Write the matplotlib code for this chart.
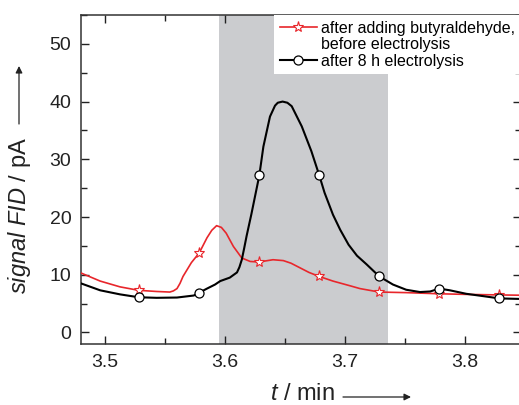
import matplotlib
matplotlib.use("Agg")
import matplotlib.pyplot as plt
from matplotlib.ticker import MultipleLocator

plt.rcParams['font.family'] = ['Liberation Sans', 'DejaVu Sans']
plt.rcParams['mathtext.fontset'] = 'custom'
plt.rcParams['mathtext.rm'] = 'Liberation Sans'
plt.rcParams['mathtext.it'] = 'Liberation Sans:italic'

# retention time (min) and FID signal (pA)
red_t = [3.48, 3.496, 3.5125, 3.528, 3.543, 3.554, 3.557, 3.560, 3.5625, 3.565, 3.572,
         3.5786, 3.585, 3.589, 3.593, 3.597, 3.601, 3.607, 3.614, 3.621, 3.6286, 3.634,
         3.640, 3.6486, 3.655, 3.6625, 3.670, 3.6786, 3.690, 3.704, 3.7125, 3.7286,
         3.751, 3.7786, 3.80, 3.8286, 3.847]
red_y = [10.3, 8.9, 7.9, 7.3, 7.1, 7.0, 7.2, 7.6, 8.5, 9.7, 12.1,
         13.8, 16.4, 17.7, 18.5, 18.2, 17.2, 14.9, 12.9, 12.3, 12.2, 12.4,
         12.6, 12.45, 12.0, 11.2, 10.4, 9.7, 8.9, 8.1, 7.6, 7.0,
         6.9, 6.7, 6.6, 6.5, 6.45]

blk_t = [3.48, 3.496, 3.5125, 3.528, 3.543, 3.56, 3.574, 3.5786, 3.585, 3.5917, 3.596,
         3.604, 3.61, 3.612, 3.614, 3.616, 3.618, 3.620, 3.622, 3.6286, 3.632, 3.6375,
         3.6417, 3.644, 3.648, 3.652, 3.6556, 3.664, 3.672, 3.6786, 3.683, 3.690,
         3.696, 3.703, 3.710, 3.718, 3.7286, 3.740, 3.751, 3.7625, 3.771, 3.7786,
         3.7875, 3.801, 3.815, 3.8286, 3.847]
blk_y = [8.5, 7.3, 6.6, 6.1, 6.0, 6.05, 6.4, 6.9, 7.6, 8.3, 8.9,
         9.5, 10.4, 11.3, 12.6, 14.6, 16.7, 18.6, 20.5, 27.2, 32.2, 37.4,
         39.3, 39.8, 40.0, 39.8, 39.2, 35.7, 31.4, 27.2, 24.2, 20.4,
         17.8, 15.2, 13.3, 11.8, 9.7, 8.3, 7.4, 7.0, 7.1, 7.6,
         7.3, 6.7, 6.3, 5.9, 5.8]

marker_t = [3.528, 3.5786, 3.6286, 3.6786, 3.7286, 3.7786, 3.8286]
window = (3.595, 3.736)

red_marks = [i for i, t in enumerate(red_t) if t in marker_t]
blk_marks = [i for i, t in enumerate(blk_t) if t in marker_t]

fig = plt.figure(figsize=(5.19, 4.05), dpi=100)
ax = fig.add_axes([81 / 519, 61 / 405, 440 / 519, 329 / 405])

ax.axvspan(window[0], window[1], color='#cbcccf', lw=0, zorder=0)

ax.plot(red_t, red_y, color='#e8262b', lw=1.2, marker='*', ms=8, mfc='white',
        mec='#e8262b', mew=0.8, markevery=red_marks, zorder=3,
        label='after adding butyraldehyde,')
ax.plot([], [], color='none', label='before electrolysis')
ax.plot(blk_t, blk_y, color='black', lw=1.5, marker='o', ms=6.5, mfc='white',
        mec='black', mew=0.9, markevery=blk_marks, zorder=4,
        label='after 8 h electrolysis')

ax.set_xlim(3.48, 3.8467)
ax.set_ylim(-2, 55)
ax.xaxis.set_major_locator(MultipleLocator(0.1))
ax.xaxis.set_minor_locator(MultipleLocator(0.05))
ax.yaxis.set_major_locator(MultipleLocator(10))
ax.yaxis.set_minor_locator(MultipleLocator(5))
ax.tick_params(which='both', direction='in', top=True, right=True, width=1,
               labelsize=14, colors='#222222')
ax.tick_params(which='major', length=6, pad=7)
ax.tick_params(which='minor', length=4)
for s in ax.spines.values():
    s.set_linewidth(1.1)
    s.set_color('#333333')

leg = ax.legend(loc='upper right', fontsize=11.5, frameon=True, fancybox=False,
                borderaxespad=0, borderpad=0.35, handlelength=2.3, handletextpad=0.3,
                labelspacing=0.1, framealpha=1)
leg.get_frame().set_edgecolor('none')
leg.get_frame().set_facecolor('white')
leg.set_zorder(5)

fig.text(20 / 519, 1 - 216 / 405, r'$\mathit{signal\ FID}$ / pA', rotation=90,
         ha='center', va='center', fontsize=17, color='#222222')
fig.text(270 / 519, 1 - 400 / 405, r'$\mathit{t}$ / min', ha='left', va='baseline',
         fontsize=17, color='#222222')

ax.annotate('', xy=(19 / 519, 1 - 66 / 405), xytext=(19 / 519, 1 - 124 / 405),
            xycoords='figure fraction', textcoords='figure fraction',
            arrowprops=dict(arrowstyle='-|>', color='#222222', lw=0.9,
                            mutation_scale=10, shrinkA=0, shrinkB=0))
ax.annotate('', xy=(411 / 519, 1 - 397 / 405), xytext=(343 / 519, 1 - 397 / 405),
            xycoords='figure fraction', textcoords='figure fraction',
            arrowprops=dict(arrowstyle='-|>', color='#222222', lw=0.9,
                            mutation_scale=10, shrinkA=0, shrinkB=0))

fig.savefig('out.png', dpi=100)
